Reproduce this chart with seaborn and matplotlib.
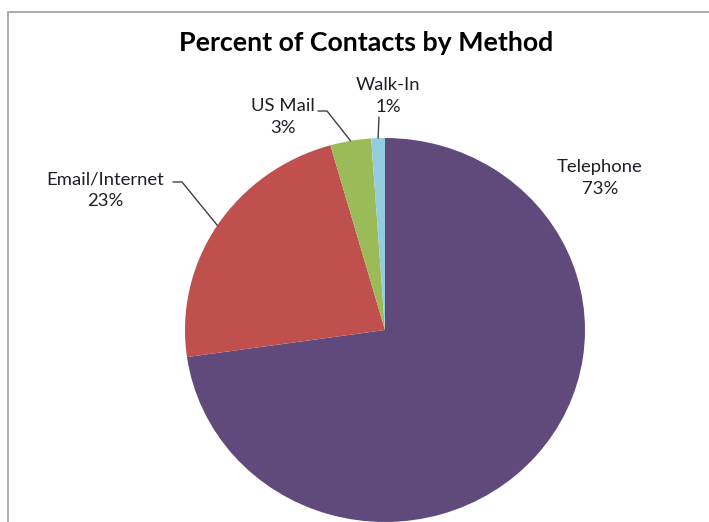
import matplotlib
matplotlib.use("Agg")
import matplotlib.pyplot as plt
import seaborn as sns
import numpy as np
from matplotlib.lines import Line2D
from matplotlib.patches import Rectangle

# ---- data ----
methods = ["Telephone", "Email/Internet", "US Mail", "Walk-In"]
shares = [72.75, 22.85, 3.3, 1.1]
pct_labels = ["73%", "23%", "3%", "1%"]
colors = ["#604A7B", "#C0504D", "#9BBB59", "#93CDDD"]
title = "Percent of Contacts by Method"

sns.set_theme(style="white")
plt.rcParams["font.family"] = ["Lato", "DejaVu Sans"]

W, H = 709, 522
fig = plt.figure(figsize=(W / 100, H / 100), dpi=100)
ax = fig.add_axes([0, 0, 1, 1])

# pixel geometry (x scale 1 unit/px, y scale slightly squashed -> ellipse)
RX, RY = 200.0, 192.0
SY = RX / RY
def px(x, y):
    return x, (H - y) * SY

cx, cy = px(385, 330)
wedges, _ = ax.pie(shares, colors=colors, startangle=90, counterclock=False,
                   center=(cx, cy), radius=RX,
                   wedgeprops=dict(linewidth=0))
ax.set_aspect("auto")
ax.set_xlim(0, W)
ax.set_ylim(0, H * SY)
ax.axis("off")

# chart border (top and left visible)
fig.patches.append(Rectangle((8 / W, -0.1), 1.2, (H - 12) / H + 0.1,
                             transform=fig.transFigure, fill=False,
                             edgecolor="#A6A6A6", linewidth=1.3))

txt = "#1E1E28"
fig.text(366 / W, 1 - 43 / H, title, ha="center", va="center",
         fontsize=19.3, fontweight="bold", color="black")

def edge_point(w):
    mid = np.deg2rad((w.theta1 + w.theta2) / 2)
    return cx + RX * np.cos(mid), cy + RX * np.sin(mid)

label_pos = {
    "Telephone": (600, 178),
    "Email/Internet": (105, 190),
    "US Mail": (283, 117),
    "Walk-In": (388, 96),
}
leaders = {
    "Email/Internet": [(173, 182), (182, 182)],
    "US Mail": [(318, 111), (327, 111)],
    "Walk-In": [(379, 117)],
}
for m, p, w in zip(methods, pct_labels, wedges):
    x, y = px(*label_pos[m])
    ax.text(x, y, f"{m}\n{p}", ha="center", va="center", fontsize=13.3,
            color=txt, linespacing=1.45)
    if m in leaders:
        pts = [px(*q) for q in leaders[m]] + [edge_point(w)]
        xs, ys = zip(*pts)
        ax.add_line(Line2D(xs, ys, color="#404040", linewidth=1.0))

fig.savefig("out.png", dpi=100)
